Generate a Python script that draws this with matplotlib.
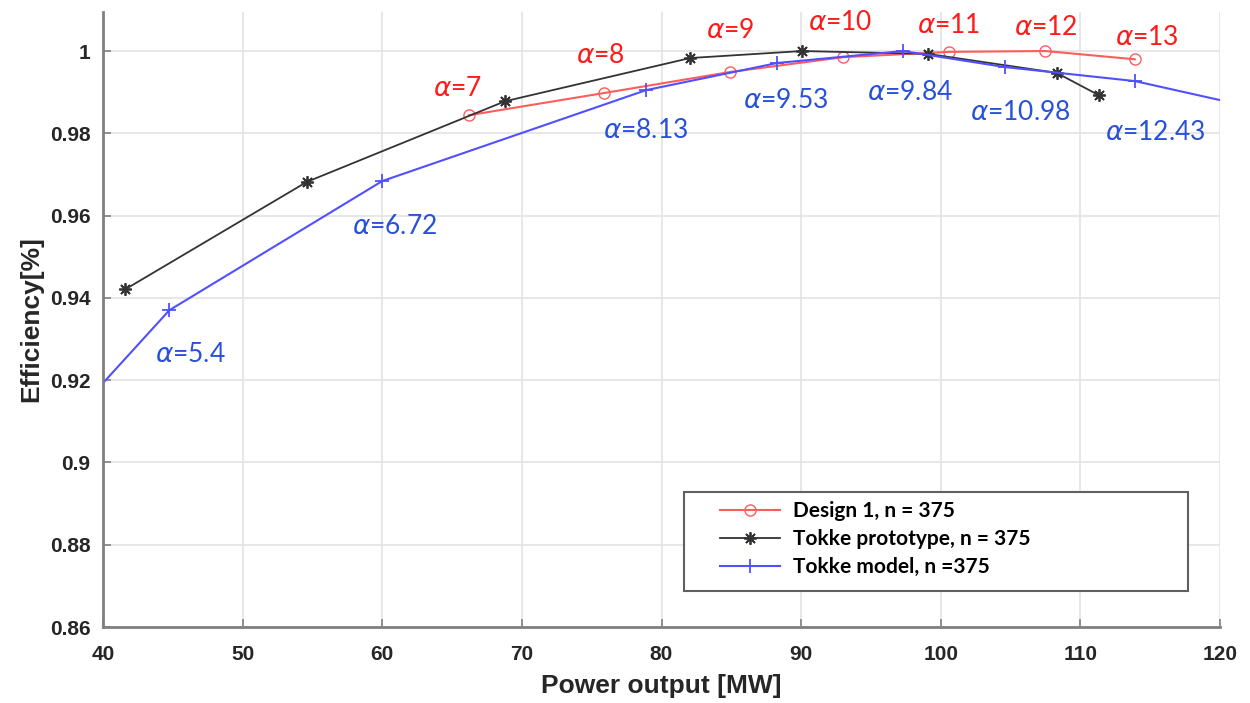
import matplotlib
matplotlib.use("Agg")
import matplotlib.pyplot as plt
from matplotlib.patches import Rectangle

# Design 1, n = 375
design_x = [66.2, 75.9, 84.9, 93.0, 100.6, 107.5, 113.9]
design_y = [0.9844, 0.9898, 0.9949, 0.9985, 0.9998, 1.0000, 0.9980]
design_lbl = ["7", "8", "9", "10", "11", "12", "13"]

# Tokke prototype, n = 375
proto_x = [41.6, 54.6, 68.8, 82.05, 90.07, 99.1, 108.3, 111.3]
proto_y = [0.9421, 0.9682, 0.9878, 0.9983, 1.0000, 0.9993, 0.9947, 0.9893]

# Tokke model, n = 375 (first/last points sit on the axis limits)
model_x = [40.0, 44.75, 60.0, 78.9, 88.3, 97.3, 104.6, 113.9, 120.1]
model_y = [0.9193, 0.9370, 0.9684, 0.9905, 0.9971, 1.0000, 0.9961, 0.9927, 0.9880]
model_lbl = ["", "5.4", "6.72", "8.13", "9.53", "9.84", "10.98", "12.43", ""]

# label offsets in points
red_off = [(-8, 19), (-3, 27), (0, 30), (-2, 25), (0, 19), (0, 17), (9, 16)]
blue_off = [(0, 0), (15, -32), (9, -33), (0, -29), (6, -27), (5, -30), (11, -33), (15, -37), (0, 0)]

red = "#ff5c5c"
blue = "#5050ff"
dark = "#333333"

fig = plt.figure(figsize=(12.5, 7.03), dpi=100)
ax = fig.add_axes([0.0824, 0.108, 0.8936, 0.875])

ax.plot(design_x, design_y, color=red, marker="o", mfc="none", ms=8, lw=1.5,
        label="Design 1, n = 375")
ax.plot(proto_x, proto_y, color=dark, marker=(8, 2, 0), ms=9, mew=1.3, lw=1.3,
        label="Tokke prototype, n = 375")
ax.plot(model_x, model_y, color=blue, marker="+", ms=10, mew=1.3, lw=1.5,
        markevery=list(range(1, len(model_x) - 1)), label="Tokke model, n =375")

lbl_font = dict(family="Lato", fontsize=19)
for x, y, s, off in zip(design_x, design_y, design_lbl, red_off):
    ax.annotate(r"$\alpha$=" + s, (x, y), xytext=off, textcoords="offset points",
                ha="center", va="center", color="#ff1a1a", **lbl_font)
for x, y, s, off in zip(model_x, model_y, model_lbl, blue_off):
    if s:
        ax.annotate(r"$\alpha$=" + s, (x, y), xytext=off, textcoords="offset points",
                    ha="center", va="center", color="#2850d8", **lbl_font)

ax.set_xlim(40, 120)
ax.set_ylim(0.86, 1.0095)
ax.set_xticks(range(40, 121, 10))
ax.set_yticks([0.86, 0.88, 0.9, 0.92, 0.94, 0.96, 0.98, 1.0])
ax.set_yticklabels(["0.86", "0.88", "0.9", "0.92", "0.94", "0.96", "0.98", "1"])

ax.grid(True, color="#e3e3e3", lw=1.2)
ax.set_axisbelow(True)
for side in ["top", "right"]:
    ax.spines[side].set_visible(False)
for side in ["left", "bottom"]:
    ax.spines[side].set_color("#808080")
    ax.spines[side].set_linewidth(2)
ax.tick_params(direction="in", length=6, width=1.2, color="#808080",
               labelsize=15, labelcolor="#262626")
ax.tick_params(axis="x", pad=13)
ax.tick_params(axis="y", pad=9)
for t in ax.get_xticklabels() + ax.get_yticklabels():
    t.set_fontfamily("Liberation Sans")
    t.set_fontweight("bold")

ax.set_xlabel("Power output [MW]", family="Liberation Sans", fontweight="bold",
              fontsize=19, color="#262626", labelpad=7)
ax.set_ylabel("Efficiency[%]", family="Liberation Sans", fontweight="bold",
              fontsize=19, color="#262626", labelpad=5)

# legend box is wider than its contents in the reference
box = Rectangle((0.520, 0.0585), 0.451, 0.161, transform=ax.transAxes,
                facecolor="white", edgecolor="#606060", lw=1.5, zorder=4.5,
                clip_on=False)
ax.add_patch(box)
leg = ax.legend(loc="upper left", bbox_to_anchor=(0.552, 0.205),
                prop=dict(family="Lato", weight="bold", size=15),
                frameon=False, handlelength=2.9, handletextpad=0.6,
                borderpad=0, borderaxespad=0, labelspacing=0.38)
leg.set_zorder(5)

fig.savefig("out.png", dpi=100)
